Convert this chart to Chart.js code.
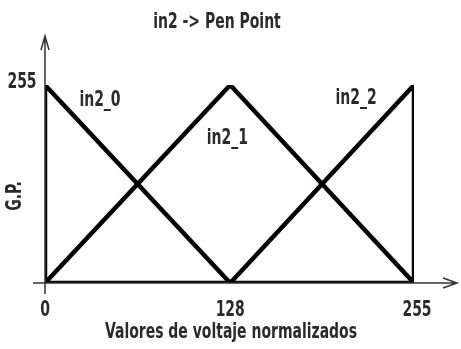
<!DOCTYPE html>
<html>
<head>
<meta charset="utf-8">
<script src="https://cdn.jsdelivr.net/npm/chart.js@4"></script>
<style>
  html, body { margin: 0; padding: 0; background: #fff; }
  canvas { display: block; }
</style>
</head>
<body>
<canvas id="chart" width="461" height="349"></canvas>
<script>
const xTicks = [0, 128, 255];
const yTicks = [255];

const in20X = [0, 0, 128, 255];
const in20Y = [0, 255, 0, 0];
const in21X = [0, 128, 255];
const in21Y = [0, 255, 0];
const in22X = [0, 128, 255, 255];
const in22Y = [0, 0, 255, 0];

const seriesNames = ["in2_0", "in2_1", "in2_2"];

const FONT = 'bold 21px "DejaVu Sans Condensed", sans-serif';
const SQUEEZE = 0.74;

function pts(xs, ys) {
  return xs.map((x, i) => ({ x: x, y: ys[i] }));
}

// tall, narrow lettering: draw the text squeezed horizontally
function narrowText(ctx, text, x, y, align) {
  ctx.save();
  ctx.translate(x, y);
  ctx.scale(SQUEEZE, 1);
  ctx.textAlign = align || "center";
  ctx.fillText(text, 0, 0);
  ctx.restore();
}

// axes with arrow heads, tick labels and the text around the plot
const decorations = {
  id: "decorations",
  afterDraw(chart) {
    const ctx = chart.ctx;
    const xs = chart.scales.x;
    const ys = chart.scales.y;
    const x0 = xs.getPixelForValue(0);
    const y0 = ys.getPixelForValue(0);

    ctx.save();
    ctx.strokeStyle = "#333";
    ctx.lineWidth = 1.5;
    ctx.beginPath();
    ctx.moveTo(x0, 294);
    ctx.lineTo(x0, 36);
    ctx.moveTo(33, y0);
    ctx.lineTo(457, y0);
    // arrow heads
    ctx.moveTo(x0 - 4, 50);
    ctx.lineTo(x0, 36);
    ctx.lineTo(x0 + 4, 50);
    ctx.moveTo(443, y0 - 5);
    ctx.lineTo(457, y0);
    ctx.lineTo(443, y0 + 5);
    ctx.stroke();

    ctx.fillStyle = "#2a2a2a";
    ctx.font = FONT;
    ctx.textBaseline = "middle";
    xTicks.forEach(v => narrowText(ctx, String(v), xs.getPixelForValue(v) + (v === 255 ? 3 : 0), 311));
    yTicks.forEach(v => narrowText(ctx, String(v), 22, ys.getPixelForValue(v) - 2));

    narrowText(ctx, "in2 -> Pen Point", 217, 23);
    narrowText(ctx, "Valores de voltaje normalizados", 231, 333);

    const labelAt = [[38, 235], [126, 186], [215, 238]];
    seriesNames.forEach((n, i) => {
      narrowText(ctx, n, xs.getPixelForValue(labelAt[i][0]), ys.getPixelForValue(labelAt[i][1]));
    });

    ctx.translate(16, 196);
    ctx.rotate(-Math.PI / 2);
    narrowText(ctx, "G.P.", 0, 0);
    ctx.restore();
  }
};

const lineStyle = {
  showLine: true,
  borderColor: "#000",
  borderWidth: 4.5,
  pointRadius: 0,
  fill: false,
  tension: 0
};

new Chart(document.getElementById("chart"), {
  type: "scatter",
  data: {
    datasets: [
      Object.assign({ label: seriesNames[0], data: pts(in20X, in20Y) }, lineStyle),
      Object.assign({ label: seriesNames[1], data: pts(in21X, in21Y) }, lineStyle),
      Object.assign({ label: seriesNames[2], data: pts(in22X, in22Y) }, lineStyle)
    ]
  },
  options: {
    responsive: false,
    animation: false,
    events: [],
    layout: { padding: { left: 45, right: 47, top: 85, bottom: 66 } },
    scales: {
      x: { type: "linear", min: 0, max: 255, display: false },
      y: { type: "linear", min: 0, max: 255, display: false }
    },
    plugins: {
      legend: { display: false },
      tooltip: { enabled: false },
      title: { display: false }
    }
  },
  plugins: [decorations]
});
</script>
</body>
</html>
